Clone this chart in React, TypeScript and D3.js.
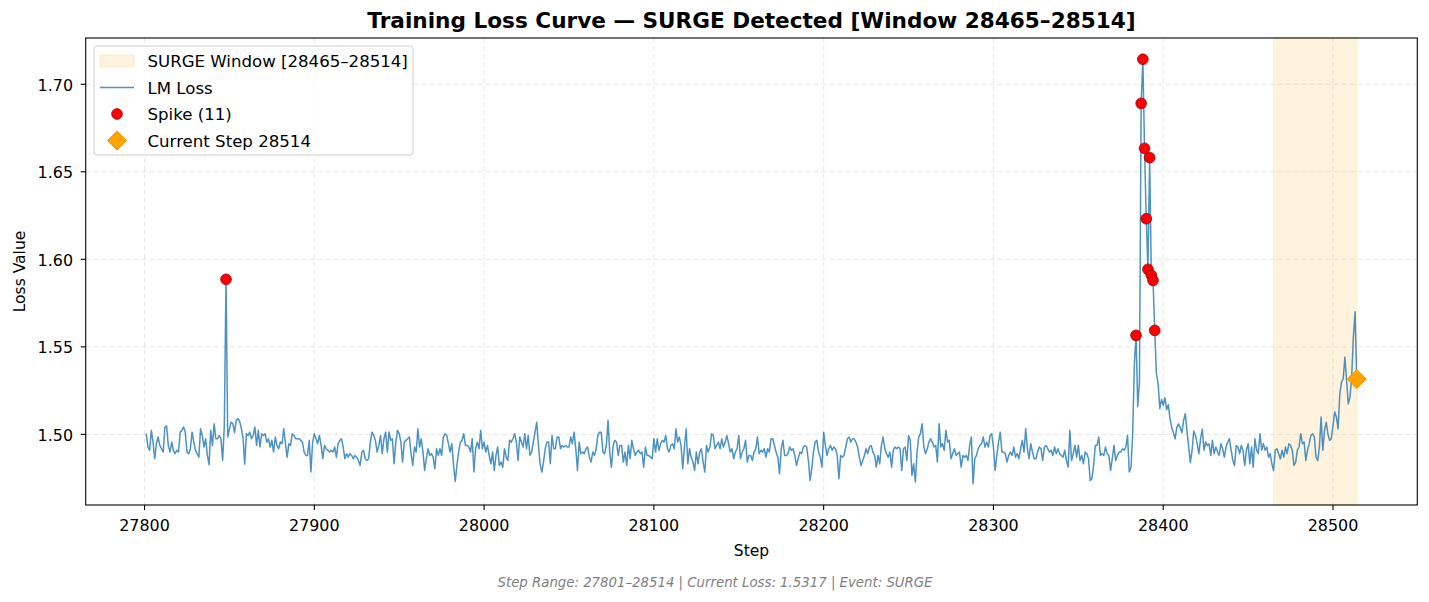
import React from "react";
import * as d3 from "d3";

// ---------- data ----------
const startStep = 27801;
const currentStep = 28514;
const surgeStart = 28465;
const surgeEnd = 28514;

// LM loss, steps 27801–27944
const lossSeg1 = [
  1.5004, 1.4928, 1.4909, 1.5023, 1.4956, 1.4861, 1.4947, 1.4985, 1.4937, 1.4918,
  1.4899, 1.5042, 1.5048, 1.4937, 1.4899, 1.4956, 1.4909, 1.489, 1.4909, 1.4899,
  1.5013, 1.5023, 1.5042, 1.5013, 1.4899, 1.489, 1.4918, 1.5013, 1.4956, 1.4909,
  1.489, 1.487, 1.5032, 1.4994, 1.4928, 1.4975, 1.488, 1.4827, 1.5023, 1.4937,
  1.5061, 1.4975, 1.4975, 1.4994, 1.4975, 1.4851, 1.5051, 1.5886, 1.4985, 1.503,
  1.507, 1.5061, 1.501, 1.508, 1.509, 1.5075, 1.5035, 1.4985, 1.483, 1.5004,
  1.4994, 1.5013, 1.4975, 1.4994, 1.5042, 1.4937, 1.5023, 1.4928, 1.5004, 1.4994,
  1.5004, 1.4956, 1.4975, 1.4928, 1.4966, 1.4899, 1.4985, 1.4937, 1.4918, 1.4956,
  1.4947, 1.5032, 1.4947, 1.487, 1.4947, 1.4937, 1.5004, 1.4994, 1.4975, 1.4975,
  1.4975, 1.4966, 1.4956, 1.4899, 1.488, 1.488, 1.4966, 1.4785, 1.4956, 1.5004,
  1.4975, 1.4947, 1.4994, 1.4937, 1.4861, 1.4937, 1.4918, 1.4909, 1.4899, 1.4909,
  1.4899, 1.4928, 1.487, 1.4947, 1.4966, 1.4975, 1.4928, 1.4861, 1.489, 1.487,
  1.489, 1.488, 1.4861, 1.488, 1.487, 1.4851, 1.4823, 1.4899, 1.4909, 1.4861,
  1.4851, 1.4861, 1.4956, 1.5013, 1.4994, 1.4966, 1.4899, 1.4937, 1.4994, 1.489,
  1.4975, 1.5013, 1.4899, 1.5013,
];

// LM loss, steps 27945–28088
const lossSeg2 = [
  1.4966, 1.4975, 1.4832, 1.4956, 1.5023, 1.5004, 1.4956, 1.4842, 1.4956, 1.4966,
  1.4975, 1.4985, 1.489, 1.4823, 1.4928, 1.4899, 1.5032, 1.4928, 1.4975, 1.4899,
  1.4794, 1.4861, 1.4918, 1.488, 1.489, 1.487, 1.4804, 1.4918, 1.488, 1.4918,
  1.488, 1.4985, 1.5004, 1.4994, 1.4947, 1.4899, 1.4947, 1.4823, 1.4731, 1.4823,
  1.4899, 1.4956, 1.4966, 1.5004, 1.4937, 1.4937, 1.4928, 1.4899, 1.4975, 1.4785,
  1.4918, 1.4956, 1.4918, 1.5023, 1.4918, 1.4956, 1.4899, 1.4937, 1.488, 1.4832,
  1.4899, 1.4794, 1.488, 1.4928, 1.4823, 1.4842, 1.4813, 1.4918, 1.487, 1.4851,
  1.4966, 1.4956, 1.4975, 1.5004, 1.4956, 1.4851, 1.4985, 1.4956, 1.4928, 1.5004,
  1.4918, 1.4994, 1.488, 1.4899, 1.4956, 1.5013, 1.507, 1.4937, 1.4832, 1.4785,
  1.4842, 1.4918, 1.4956, 1.4956, 1.4832, 1.4994, 1.4918, 1.4918, 1.4985, 1.4985,
  1.4918, 1.4937, 1.4928, 1.4937, 1.4928, 1.4928, 1.4985, 1.4947, 1.5013, 1.4918,
  1.4794, 1.4956, 1.489, 1.4899, 1.489, 1.4918, 1.4928, 1.487, 1.4842, 1.4899,
  1.488, 1.4918, 1.4994, 1.5013, 1.5013, 1.4899, 1.489, 1.4937, 1.508, 1.4899,
  1.4813, 1.4937, 1.4966, 1.4956, 1.488, 1.4937, 1.4937, 1.4842, 1.4899, 1.4823,
  1.4937, 1.4861, 1.4966, 1.4918,
];

// LM loss, steps 28089–28232
const lossSeg3 = [
  1.488, 1.4899, 1.4909, 1.489, 1.4899, 1.4813, 1.4928, 1.488, 1.488, 1.487,
  1.4861, 1.4975, 1.4899, 1.4975, 1.4909, 1.4947, 1.4966, 1.4956, 1.4994, 1.4918,
  1.4899, 1.4937, 1.4947, 1.4918, 1.5032, 1.4956, 1.4985, 1.4937, 1.4804, 1.4928,
  1.5032, 1.4832, 1.4918, 1.487, 1.4842, 1.4794, 1.4899, 1.4832, 1.4899, 1.4918,
  1.4842, 1.4785, 1.4937, 1.4899, 1.4928, 1.5004, 1.4994, 1.4918, 1.4937, 1.4956,
  1.4918, 1.4975, 1.4928, 1.4956, 1.4994, 1.4947, 1.4899, 1.4918, 1.4861, 1.4899,
  1.4918, 1.4994, 1.4861, 1.4899, 1.4918, 1.4966, 1.4842, 1.488, 1.488, 1.4851,
  1.4899, 1.4918, 1.4985, 1.489, 1.4909, 1.4899, 1.4918, 1.487, 1.4918, 1.4899,
  1.4975, 1.4975, 1.4937, 1.4899, 1.487, 1.4775, 1.4918, 1.4966, 1.488, 1.488,
  1.489, 1.4928, 1.4909, 1.4918, 1.488, 1.4823, 1.4861, 1.4899, 1.489, 1.4928,
  1.4937, 1.4928, 1.4851, 1.4737, 1.4804, 1.4899, 1.4956, 1.4966, 1.4899, 1.487,
  1.4813, 1.5013, 1.4937, 1.488, 1.4918, 1.4937, 1.4909, 1.4928, 1.4918, 1.488,
  1.4747, 1.488, 1.487, 1.488, 1.4928, 1.4975, 1.4985, 1.4956, 1.4975, 1.4975,
  1.4956, 1.4928, 1.487, 1.4823, 1.4851, 1.488, 1.4918, 1.489, 1.4928, 1.4937,
  1.4899, 1.488, 1.4813, 1.488,
];

// LM loss, steps 28233–28376
const lossSeg4 = [
  1.4832, 1.4937, 1.4985, 1.4918, 1.489, 1.487, 1.4899, 1.4813, 1.4909, 1.4928,
  1.4918, 1.4928, 1.4918, 1.4794, 1.4918, 1.4928, 1.4851, 1.4994, 1.4966, 1.4766,
  1.4832, 1.4728, 1.4899, 1.4985, 1.5004, 1.5061, 1.4928, 1.489, 1.4918, 1.4956,
  1.4975, 1.4956, 1.4928, 1.4937, 1.4842, 1.5061, 1.4928, 1.4947, 1.4909, 1.5023,
  1.4956, 1.4966, 1.4861, 1.489, 1.4918, 1.488, 1.489, 1.4899, 1.4813, 1.488,
  1.487, 1.488, 1.4851, 1.4937, 1.4985, 1.4718, 1.4861, 1.488, 1.4918, 1.4937,
  1.4947, 1.4985, 1.4928, 1.4956, 1.4928, 1.4994, 1.5004, 1.4928, 1.4794, 1.488,
  1.4956, 1.5013, 1.4899, 1.4899, 1.489, 1.4842, 1.488, 1.4899, 1.488, 1.4928,
  1.487, 1.489, 1.4861, 1.4918, 1.4966, 1.4899, 1.5032, 1.4918, 1.4861, 1.4947,
  1.4899, 1.4861, 1.4861, 1.4899, 1.4928, 1.4918, 1.4851, 1.4928, 1.4937, 1.4918,
  1.4899, 1.4909, 1.488, 1.4928, 1.489, 1.4918, 1.489, 1.488, 1.487, 1.4909,
  1.4851, 1.4813, 1.5023, 1.4851, 1.489, 1.4937, 1.487, 1.4937, 1.4851, 1.488,
  1.4832, 1.4899, 1.489, 1.4861, 1.4737, 1.4747, 1.4823, 1.4937, 1.4937, 1.4985,
  1.488, 1.489, 1.488, 1.4928, 1.489, 1.488, 1.4794, 1.4861, 1.4937, 1.4851,
  1.488, 1.4899, 1.4899, 1.4918,
];

// LM loss, steps 28377–28514
const lossSeg5 = [
  1.491, 1.4928, 1.4994, 1.4785, 1.481, 1.5, 1.54, 1.5566, 1.516, 1.53,
  1.6891, 1.7143, 1.6634, 1.6232, 1.5943, 1.6581, 1.5909, 1.588, 1.5594, 1.5347,
  1.529, 1.5147, 1.52, 1.5166, 1.521, 1.514, 1.517, 1.509, 1.504, 1.501,
  1.4975, 1.504, 1.506, 1.504, 1.501, 1.508, 1.5118, 1.502, 1.4928, 1.484,
  1.4909, 1.502, 1.4994, 1.4947, 1.489, 1.4975, 1.503, 1.491, 1.4956, 1.4937,
  1.4947, 1.488, 1.4966, 1.489, 1.4928, 1.49, 1.488, 1.4947, 1.4918, 1.487,
  1.4928, 1.4956, 1.4975, 1.491, 1.4851, 1.4823, 1.4937, 1.4928, 1.489, 1.4937,
  1.491, 1.4823, 1.491, 1.4947, 1.4832, 1.4928, 1.4813, 1.4975, 1.491, 1.489,
  1.5004, 1.491, 1.4947, 1.491, 1.4928, 1.487, 1.489, 1.4832, 1.4794, 1.491,
  1.4918, 1.489, 1.486, 1.491, 1.487, 1.4928, 1.489, 1.4947, 1.4937, 1.491,
  1.4823, 1.484, 1.491, 1.4928, 1.5004, 1.4947, 1.4956, 1.4851, 1.491, 1.4947,
  1.4994, 1.5004, 1.4985, 1.487, 1.4851, 1.4928, 1.5099, 1.491, 1.5023, 1.507,
  1.5004, 1.4966, 1.4975, 1.5051, 1.5128, 1.5099, 1.5032, 1.5232, 1.5299, 1.5318,
  1.5442, 1.5309, 1.5175, 1.5213, 1.5328, 1.5556, 1.57, 1.5317,
];

const lossValues = [...lossSeg1, ...lossSeg2, ...lossSeg3, ...lossSeg4, ...lossSeg5];
const steps = lossValues.map((_, i) => startStep + i);

const spikeSteps = [27848, 28384, 28387, 28388, 28389, 28390, 28391, 28392, 28393, 28394, 28395];

const xTicks = [27800, 27900, 28000, 28100, 28200, 28300, 28400, 28500];
const yTicks = [1.5, 1.55, 1.6, 1.65, 1.7];

const titleText = "Training Loss Curve — SURGE Detected [Window 28465–28514]";
const legendLabels = [
  "SURGE Window [28465–28514]",
  "LM Loss",
  "Spike (11)",
  "Current Step 28514",
];
const footerText = "Step Range: 27801–28514 | Current Loss: 1.5317 | Event: SURGE";

// ---------- layout ----------
const W = 1429;
const H = 602;
const plot = { left: 85.7, right: 1417.3, top: 38, bottom: 505 };
const FONT = "DejaVu Sans, sans-serif";

export default function App() {
  const [xMin, xMax] = d3.extent(steps) as [number, number];
  const xPad = (xMax - xMin) * 0.05;
  const x = d3.scaleLinear().domain([xMin - xPad, xMax + xPad]).range([plot.left, plot.right]);

  const [yMin, yMax] = d3.extent(lossValues) as [number, number];
  const yPad = (yMax - yMin) * 0.05;
  const y = d3.scaleLinear().domain([yMin - yPad, yMax + yPad]).range([plot.bottom, plot.top]);

  const valueAt = (s: number) => lossValues[s - startStep];

  const line = d3
    .line<number>()
    .x((_, i) => x(steps[i]))
    .y((d) => y(d))(lossValues) as string;

  // matplotlib 'D' marker: a square rotated 45°
  const diamond = d3.symbol(d3.symbolSquare, 172)() as string;

  const lineColor = "#1f77b4";
  const cx = (plot.left + plot.right) / 2;

  const legendX = 94;
  const legendY = 46;
  const rowH = 26.5;
  const tickFont = 15.9;
  const legendFont = 16.6;

  return (
    <svg
      width={W}
      height={H}
      style={{ position: "fixed", left: 0, top: 0, background: "#fff" }}
      fontFamily={FONT}
    >
      <defs>
        <clipPath id="plotclip">
          <rect x={plot.left} y={plot.top} width={plot.right - plot.left} height={plot.bottom - plot.top} />
        </clipPath>
      </defs>
      <rect x={0} y={0} width={W} height={H} fill="#fff" />

      {/* surge span */}
      <rect
        x={x(surgeStart)}
        y={plot.top}
        width={x(surgeEnd) - x(surgeStart)}
        height={plot.bottom - plot.top}
        fill="orange"
        fillOpacity={0.13}
        stroke="orange"
        strokeOpacity={0.15}
      />

      {/* grid */}
      <g stroke="#b0b0b0" strokeOpacity={0.3} strokeDasharray="5,3" strokeWidth={1}>
        {xTicks.map((t) => (
          <line key={"gx" + t} x1={x(t)} x2={x(t)} y1={plot.top} y2={plot.bottom} />
        ))}
        {yTicks.map((t) => (
          <line key={"gy" + t} x1={plot.left} x2={plot.right} y1={y(t)} y2={y(t)} />
        ))}
      </g>

      {/* loss line */}
      <path
        d={line}
        fill="none"
        stroke={lineColor}
        strokeOpacity={0.8}
        strokeWidth={1.5}
        strokeLinejoin="round"
        clipPath="url(#plotclip)"
      />

      {/* spikes */}
      {spikeSteps.map((s) => (
        <circle
          key={"sp" + s}
          cx={x(s)}
          cy={y(valueAt(s))}
          r={5.4}
          fill="red"
          stroke="darkred"
          strokeWidth={0.7}
        />
      ))}

      {/* current step */}
      <path
        d={diamond}
        transform={`translate(${x(currentStep)},${y(valueAt(currentStep))}) rotate(45)`}
        fill="orange"
        stroke="darkorange"
        strokeWidth={1}
      />

      {/* axes frame */}
      <rect
        x={plot.left}
        y={plot.top}
        width={plot.right - plot.left}
        height={plot.bottom - plot.top}
        fill="none"
        stroke="#000"
        strokeWidth={1.1}
      />

      {/* x ticks */}
      {xTicks.map((t) => (
        <g key={"xt" + t}>
          <line x1={x(t)} x2={x(t)} y1={plot.bottom} y2={plot.bottom + 5} stroke="#000" strokeWidth={1.1} />
          <text x={x(t)} y={530.5} textAnchor="middle" fontSize={tickFont} fill="#000">
            {t}
          </text>
        </g>
      ))}

      {/* y ticks */}
      {yTicks.map((t) => (
        <g key={"yt" + t}>
          <line x1={plot.left - 5} x2={plot.left} y1={y(t)} y2={y(t)} stroke="#000" strokeWidth={1.1} />
          <text x={73} y={y(t) + 6.3} textAnchor="end" fontSize={tickFont} fill="#000">
            {t.toFixed(2)}
          </text>
        </g>
      ))}

      {/* axis labels */}
      <text x={cx} y={556} textAnchor="middle" fontSize={15.5} fill="#000">
        Step
      </text>
      <text
        transform={`translate(25,${(plot.top + plot.bottom) / 2}) rotate(-90)`}
        textAnchor="middle"
        fontSize={15.5}
        fill="#000"
      >
        Loss Value
      </text>

      {/* title */}
      <text x={cx} y={28.3} textAnchor="middle" fontSize={21.6} fontWeight="bold" fill="#000">
        {titleText}
      </text>

      {/* legend */}
      <g>
        <rect
          x={legendX}
          y={legendY}
          width={319}
          height={109}
          rx={3}
          fill="#fff"
          fillOpacity={0.8}
          stroke="#cccccc"
          strokeWidth={1}
        />
        <rect
          x={100}
          y={legendY + 9}
          width={34}
          height={12}
          fill="orange"
          fillOpacity={0.13}
          stroke="orange"
          strokeOpacity={0.15}
        />
        <line
          x1={100}
          x2={134}
          y1={legendY + 15 + rowH}
          y2={legendY + 15 + rowH}
          stroke={lineColor}
          strokeOpacity={0.8}
          strokeWidth={1.5}
        />
        <circle cx={117} cy={legendY + 15 + rowH * 2} r={5.4} fill="red" stroke="darkred" strokeWidth={0.7} />
        <path
          d={diamond}
          transform={`translate(117,${legendY + 15 + rowH * 3}) rotate(45)`}
          fill="orange"
          stroke="darkorange"
          strokeWidth={1}
        />
        {legendLabels.map((l, i) => (
          <text key={l} x={147.5} y={legendY + 21 + rowH * i} fontSize={legendFont} fill="#000">
            {l}
          </text>
        ))}
      </g>

      {/* footer */}
      <text
        x={715}
        y={586.5}
        textAnchor="middle"
        fontSize={13.3}
        fontStyle="italic"
        fill="#808080"
      >
        {footerText}
      </text>
    </svg>
  );
}
